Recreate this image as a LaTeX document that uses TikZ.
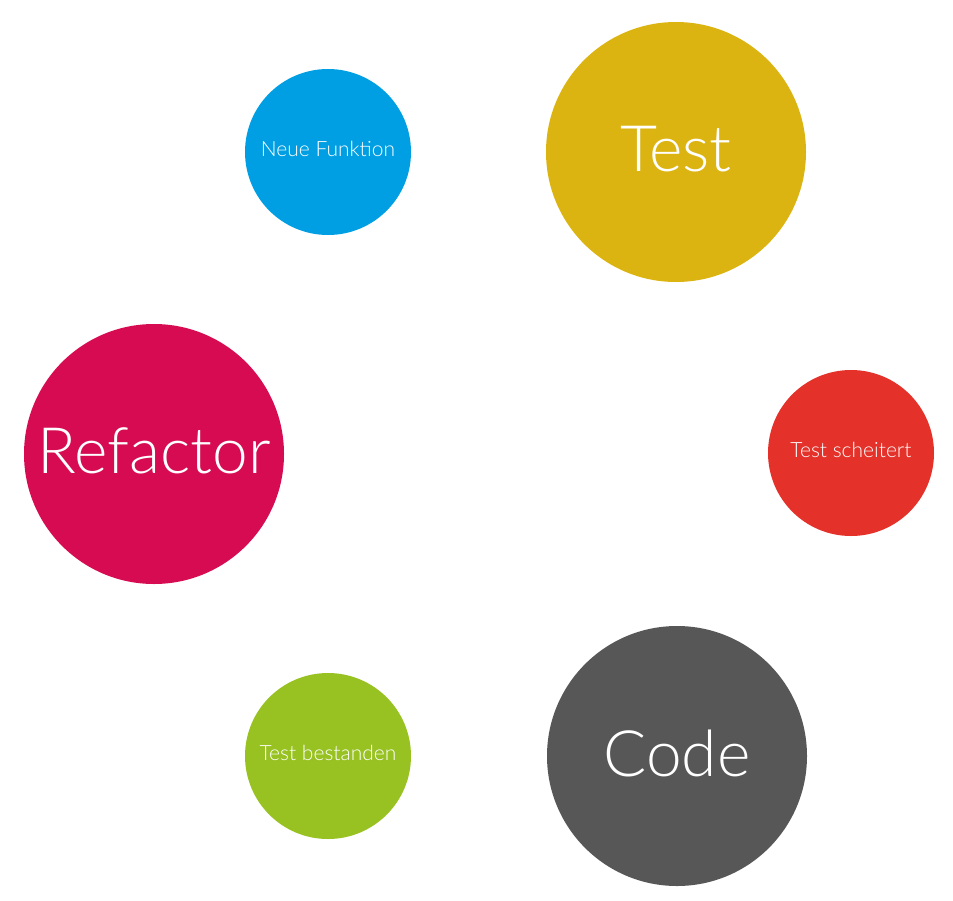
\documentclass[tikz,border=0pt]{standalone}
\usepackage{fontspec}
\newfontfamily\latolight{Lato Light}
\definecolor{cblue}{HTML}{009FE3}
\definecolor{cgold}{HTML}{DBB411}
\definecolor{cred}{HTML}{E4312A}
\definecolor{cgray}{HTML}{575757}
\definecolor{cgreen}{HTML}{97C222}
\definecolor{ccrimson}{HTML}{D60B51}
\tikzset{
  bubble/.style={circle, inner sep=0pt, text=white, font=\latolight},
  big/.style={bubble, minimum size=260pt, font=\latolight\fontsize{64}{64}\selectfont},
  small/.style={bubble, minimum size=166pt, font=\latolight\fontsize{21}{22}\selectfont},
  bigtext/.style={yshift=3pt},
  smalltext/.style={yshift=3pt},
}
\begin{document}
\begin{tikzpicture}[x=1pt,y=-1pt]
\useasboundingbox (0,0) rectangle (953,900);
\node[small, fill=cblue] (neu) at (328,152) {};
\node[small, fill=cred] (fail) at (851,453) {};
\node[small, fill=cgreen] (pass) at (328,756) {};
\node[big, fill=cgold] (test) at (676,152) {};
\node[big, fill=cgray] (code) at (677,756) {};
\node[big, fill=ccrimson] (ref) at (154,454) {};
\node[small, minimum size=0pt, smalltext] (neut) at (neu.center) {Neue Funktion};
\node[small, minimum size=0pt, smalltext] (failt) at (fail.center) {Test scheitert};
\node[small, minimum size=0pt, smalltext] (passt) at (pass.center) {Test bestanden};
\node[big, minimum size=0pt, bigtext] (testt) at (test.center) {Test};
\node[big, minimum size=0pt, bigtext] (codet) at (code.center) {Code};
\node[big, minimum size=0pt, bigtext] (reft) at (ref.center) {Refactor};
\end{tikzpicture}
\end{document}
